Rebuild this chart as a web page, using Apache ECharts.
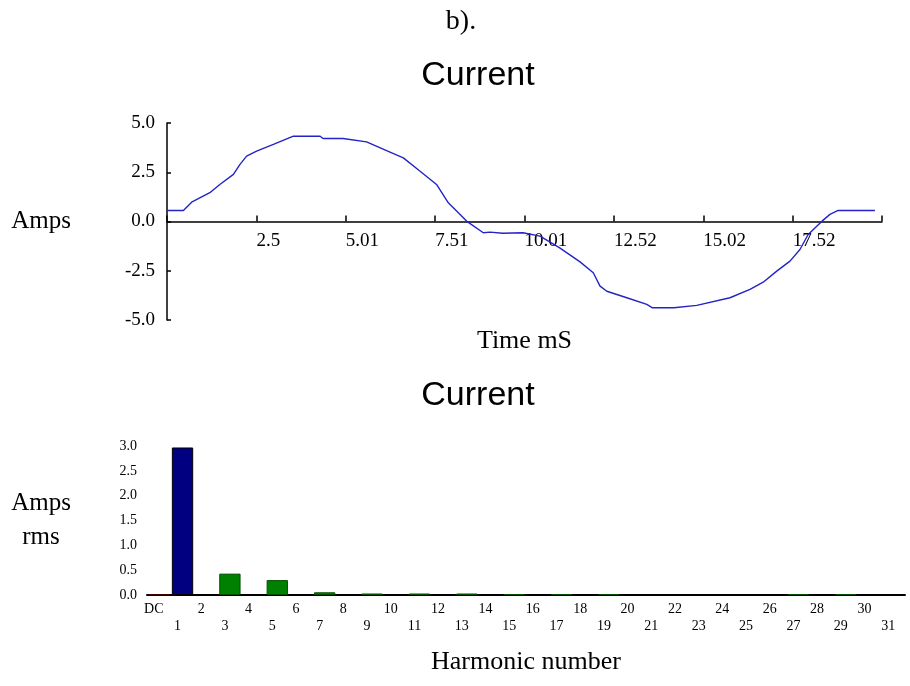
<!DOCTYPE html>
<html>
<head>
<meta charset="utf-8">
<script src="https://cdn.jsdelivr.net/npm/echarts@6/dist/echarts.min.js"></script>
<style>
html,body{margin:0;padding:0;background:#fff;}
#chart{width:910px;height:686px;}
</style>
</head>
<body>
<div id="chart"></div>
<script>
// ---- Top chart: current waveform ----
const timeMs = [0, 0.46, 0.69, 1.2, 1.48, 1.86, 2.04, 2.23, 2.51, 2.98, 3.54, 4.29, 4.37, 4.93, 5.59, 6.15, 6.62, 7.09, 7.55, 7.88, 8.21, 8.39, 8.86, 9.05, 9.4, 9.97, 10.45, 11.0, 11.57, 11.94, 12.13, 12.32, 12.88, 13.44, 13.6, 14.2, 14.84, 15.77, 16.33, 16.7, 17.08, 17.45, 17.73, 17.96, 18.2, 18.38, 18.57, 18.8, 19.83];
const amps = [0.56, 0.56, 0.98, 1.46, 1.88, 2.39, 2.89, 3.32, 3.57, 3.91, 4.33, 4.33, 4.21, 4.21, 4.04, 3.6, 3.23, 2.55, 1.88, 0.95, 0.36, 0.02, -0.57, -0.54, -0.6, -0.57, -0.74, -1.34, -2.05, -2.6, -3.28, -3.54, -3.87, -4.21, -4.38, -4.38, -4.26, -3.87, -3.45, -3.08, -2.52, -2.01, -1.42, -0.66, -0.24, 0.07, 0.36, 0.56, 0.56];
const timeTickLabels = ['', '2.5', '5.01', '7.51', '10.01', '12.52', '15.02', '17.52', ''];
const timeInterval = 2.5035;

// ---- Bottom chart: harmonic spectrum ----
const harmonics = ['DC','1','2','3','4','5','6','7','8','9','10','11','12','13','14','15','16','17','18','19','20','21','22','23','24','25','26','27','28','29','30','31'];
const harmonicRms = [0.02, 2.97, 0, 0.43, 0, 0.3, 0, 0.055, 0, 0.03, 0, 0.03, 0, 0.03, 0, 0.018, 0, 0.018, 0, 0.018, 0, 0, 0, 0, 0, 0, 0, 0.018, 0, 0.018, 0, 0];

const SERIF = '"Liberation Serif", "Times New Roman", serif';
const SANS = '"Liberation Sans", Arial, sans-serif';

const chart = echarts.init(document.getElementById('chart'), null, {renderer: 'canvas'});

const barData = harmonicRms.map((v, i) => {
  const style = i === 0 ? {color: '#800000', borderColor: '#400000'}
              : i === 1 ? {color: '#000080', borderColor: '#000000'}
              : {color: '#008000', borderColor: '#005000'};
  style.borderWidth = v === 0 ? 0 : 1;
  return {value: v, itemStyle: style};
});

chart.setOption({
  backgroundColor: '#fff',
  animation: false,
  graphic: [
    {type: 'text', x: 461, y: 22, style: {text: 'b).', font: '28px ' + SERIF, fill: '#000', align: 'center', verticalAlign: 'middle', textAlign: 'center', textVerticalAlign: 'middle'}},
    {type: 'text', x: 478, y: 76, style: {text: 'Current', font: '34px ' + SANS, fill: '#000', align: 'center', verticalAlign: 'middle', textAlign: 'center', textVerticalAlign: 'middle'}},
    {type: 'text', x: 478, y: 396, style: {text: 'Current', font: '34px ' + SANS, fill: '#000', align: 'center', verticalAlign: 'middle', textAlign: 'center', textVerticalAlign: 'middle'}}
  ],
  grid: [
    {left: 167, right: 28, top: 123, bottom: 366, containLabel: false},
    {left: 147, right: 5, top: 446, bottom: 91, containLabel: false}
  ],
  xAxis: [
    {
      type: 'value', gridIndex: 0, min: 0, max: timeInterval * 8, interval: timeInterval,
      position: 'bottom', offset: -98.5,
      name: 'Time mS', nameLocation: 'middle', nameGap: 120,
      nameTextStyle: {fontFamily: SERIF, fontSize: 26, color: '#000', verticalAlign: 'middle'},
      axisLine: {onZero: false, lineStyle: {color: '#000', width: 1.5}},
      axisTick: {inside: true, length: 6, lineStyle: {color: '#000', width: 1.5}},
      axisLabel: {
        color: '#000', fontFamily: SERIF, fontSize: 19, margin: 10, align: 'left',
        showMinLabel: true, showMaxLabel: true,
        formatter: (v) => timeTickLabels[Math.round(v / timeInterval)] || ''
      },
      splitLine: {show: false}
    },
    {
      type: 'category', gridIndex: 1, data: harmonics, boundaryGap: true,
      name: 'Harmonic number', nameLocation: 'middle', nameGap: 67,
      nameTextStyle: {fontFamily: SERIF, fontSize: 26, color: '#000', verticalAlign: 'middle'},
      axisLine: {lineStyle: {color: '#000', width: 2}},
      axisTick: {interval: 0, length: 4, alignWithLabel: false, lineStyle: {color: '#000', width: 1.5}},
      axisLabel: {
        interval: 0, color: '#000', fontFamily: SERIF, fontSize: 14, lineHeight: 17, margin: 6,
        padding: [0, 10, 0, 0],
        formatter: (v, i) => (i % 2 === 1 ? '\n' + v : v)
      },
      splitLine: {show: false}
    }
  ],
  yAxis: [
    {
      type: 'value', gridIndex: 0, min: -5, max: 5, interval: 2.5,
      name: 'Amps', nameLocation: 'middle', nameGap: 126, nameRotate: 0,
      nameTextStyle: {fontFamily: SERIF, fontSize: 25, color: '#000', align: 'center', verticalAlign: 'middle', padding: [0, 0, 16, 0]},
      axisLine: {onZero: false, lineStyle: {color: '#000', width: 1.5}},
      axisTick: {inside: true, length: 4, lineStyle: {color: '#000', width: 1.5}},
      axisLabel: {color: '#000', fontFamily: SERIF, fontSize: 19, margin: 12, formatter: (v) => v.toFixed(1)},
      splitLine: {show: false}
    },
    {
      type: 'value', gridIndex: 1, min: 0, max: 3, interval: 0.5,
      name: 'Amps\nrms', nameLocation: 'middle', nameGap: 106, nameRotate: 0,
      nameTextStyle: {fontFamily: SERIF, fontSize: 25, lineHeight: 34, color: '#000', align: 'center', verticalAlign: 'middle', padding: [0, 0, 10, 0]},
      axisLine: {lineStyle: {color: '#000', width: 2}},
      axisTick: {inside: true, length: 4, lineStyle: {color: '#000', width: 1.5}},
      axisLabel: {color: '#000', fontFamily: SERIF, fontSize: 14, margin: 10, formatter: (v) => v.toFixed(1)},
      splitLine: {show: false}
    }
  ],
  series: [
    {
      type: 'line', xAxisIndex: 0, yAxisIndex: 0,
      data: timeMs.map((t, i) => [t, amps[i]]),
      showSymbol: false, smooth: false,
      lineStyle: {color: '#2323c8', width: 1.4},
      z: 3
    },
    {
      type: 'bar', xAxisIndex: 1, yAxisIndex: 1,
      data: barData,
      barCategoryGap: '10%'
    }
  ]
});
</script>
</body>
</html>
